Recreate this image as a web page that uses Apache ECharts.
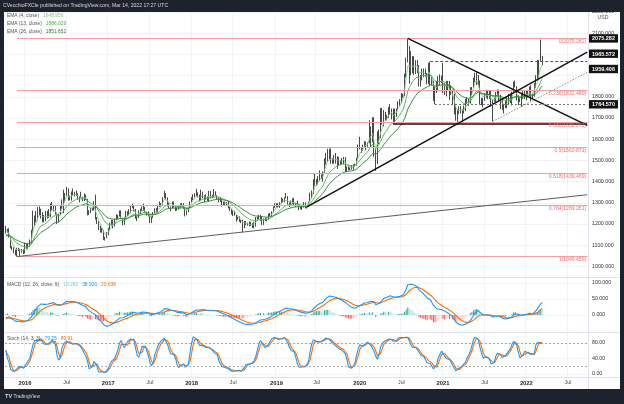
<!DOCTYPE html>
<html><head><meta charset="utf-8">
<script src="https://cdn.jsdelivr.net/npm/echarts@6/dist/echarts.min.js"></script>
<style>html,body{margin:0;padding:0;background:#1e222d;}#c{width:624px;height:404px;}</style>
</head><body><div id="c"></div><script>
// ---------- weekly XAU/USD data (week starting Monday) ----------
const firstWeek = '2015-10-12';
const totalWeeks = 364;
const firstOpen = [1156];

const close2015 = [1177,1162,1142,1088,1082,1076,1057,1085,1075,1065,1076,1061];
const high2015  = [1191,1178,1180,1142,1096,1090,1078,1088,1088,1083,1081,1082];
const low2015   = [1155,1159,1136,1085,1077,1062,1052,1046.459,1072,1047,1064,1058];

const close2016 = [1097,1089,1097,1117,1157,1239,1227,1222,1271,1259,1254,1217,1222,1243,1235,1232,1291,1290,1273,1252,1212,1243,1275,1298,1322,1340,1366,1327,1323,1350,1335,1336,1341,1321,1327,1328,1310,1338,1316,1257,1251,1267,1275,1304,1225,1208,1183,1178,1160,1133,1133,1152];
const high2016  = [1112,1105,1111,1127,1173,1263,1240,1261,1280,1283,1272,1256,1243,1261,1262,1270,1297,1304,1278,1286,1252,1248,1285,1316,1362,1346,1375,1368,1334,1354,1367,1352,1358,1345,1330,1352,1328,1344,1338,1318,1265,1275,1277,1308,1338,1233,1213,1191,1181,1172,1140,1163];
const low2016   = [1061,1080,1081,1092,1110,1158,1191,1208,1218,1240,1226,1208,1208,1214,1225,1228,1234,1263,1259,1245,1200,1206,1242,1271,1251,1304,1332,1310,1311,1310,1333,1330,1332,1315,1302,1323,1308,1308,1313,1241,1242,1253,1262,1265,1221,1200,1171,1160,1158,1125,1122,1135];

const close2017 = [1173,1197,1210,1190,1220,1234,1235,1257,1226,1203,1229,1244,1249,1254,1285,1284,1268,1228,1228,1254,1267,1279,1266,1254,1256,1242,1209,1228,1254,1269,1257,1289,1284,1291,1325,1346,1320,1297,1280,1275,1304,1280,1266,1269,1275,1293,1287,1274,1248,1256,1278,1303];
const high2017  = [1182,1207,1220,1219,1225,1245,1244,1264,1264,1227,1232,1261,1260,1270,1289,1296,1289,1271,1236,1264,1272,1283,1296,1280,1258,1260,1243,1236,1256,1274,1275,1291,1306,1299,1326,1357,1340,1326,1300,1282,1306,1306,1284,1279,1287,1296,1299,1298,1278,1264,1279,1306];
const low2017   = [1146,1173,1193,1180,1188,1219,1225,1234,1223,1194,1196,1228,1237,1241,1251,1275,1259,1225,1214,1230,1247,1260,1262,1252,1240,1236,1205,1205,1230,1250,1254,1256,1280,1282,1288,1322,1316,1283,1275,1260,1274,1278,1261,1263,1267,1273,1280,1271,1236,1241,1256,1277];

const close2018 = [1322,1338,1332,1348,1333,1315,1347,1330,1322,1323,1312,1347,1325,1332,1345,1336,1323,1315,1319,1291,1302,1294,1298,1279,1270,1253,1255,1241,1231,1223,1214,1213,1184,1206,1201,1198,1194,1199,1192,1203,1222,1228,1235,1233,1209,1223,1222,1222,1248,1238,1257,1280,1287];
const high2018  = [1327,1340,1345,1366,1349,1339,1362,1353,1336,1340,1329,1356,1355,1338,1365,1354,1337,1326,1326,1319,1304,1306,1303,1309,1280,1272,1263,1262,1244,1235,1236,1219,1220,1214,1214,1206,1212,1211,1204,1210,1233,1234,1243,1243,1237,1226,1230,1230,1250,1252,1260,1283,1298];
const low2018   = [1302,1313,1325,1331,1325,1307,1312,1322,1303,1315,1309,1306,1322,1322,1326,1331,1316,1302,1304,1282,1286,1290,1287,1273,1262,1245,1238,1239,1211,1220,1210,1204,1160,1180,1195,1192,1189,1191,1181,1180,1188,1221,1223,1215,1196,1196,1214,1213,1220,1236,1236,1254,1276];

const close2019 = [1290,1282,1298,1318,1314,1322,1328,1294,1298,1303,1312,1292,1291,1290,1275,1286,1280,1286,1277,1284,1305,1341,1341,1399,1409,1399,1415,1426,1419,1440,1497,1513,1527,1520,1506,1488,1517,1497,1505,1488,1490,1505,1514,1459,1468,1462,1463,1460,1476,1478,1511,1552];
const high2019  = [1298,1298,1303,1326,1320,1326,1346,1331,1301,1311,1320,1324,1300,1310,1296,1289,1287,1303,1301,1287,1306,1348,1358,1411,1439,1412,1426,1453,1434,1448,1510,1535,1555,1555,1557,1510,1525,1535,1519,1517,1500,1511,1516,1516,1472,1476,1467,1478,1481,1485,1513,1575];
const low2019   = [1279,1276,1276,1297,1302,1302,1321,1292,1281,1290,1295,1288,1280,1286,1266,1270,1267,1278,1274,1273,1281,1307,1322,1341,1381,1381,1386,1402,1412,1400,1438,1480,1492,1505,1484,1484,1484,1485,1460,1474,1478,1483,1482,1446,1445,1453,1454,1456,1456,1472,1476,1510];

const close2020 = [1562,1557,1571,1589,1570,1584,1643,1585,1674,1530,1498,1617,1620,1683,1683,1729,1700,1702,1743,1735,1730,1685,1730,1743,1771,1775,1799,1810,1902,1975,2035,1944,1940,1964,1934,1940,1950,1862,1900,1930,1899,1902,1879,1951,1889,1872,1788,1838,1839,1881,1878,1895];
const high2020  = [1611,1564,1574,1591,1583,1585,1689,1660,1704,1703,1560,1637,1645,1747,1747,1738,1722,1715,1752,1765,1745,1745,1744,1745,1779,1789,1818,1814,1909,1984,2075.282,2039,2015,1992,1992,1973,1973,1912,1903,1933,1933,1933,1912,1960,1965.572,1900,1876,1848,1875,1897,1906,1900];
const low2020   = [1552,1536,1546,1562,1548,1564,1581,1563,1585,1517,1451,1482,1576,1605,1669,1660,1690,1688,1700,1715,1693,1670,1678,1705,1741,1757,1770,1795,1802,1891,1962,1863,1902,1911,1903,1907,1912,1849,1848,1877,1892,1895,1859,1860,1850,1854,1781,1764.57,1819,1830,1855,1865];

const close2021 = [1850,1829,1856,1848,1814,1823,1784,1734,1700,1719,1745,1733,1728,1744,1777,1777,1769,1831,1844,1881,1905,1892,1877,1764,1781,1784,1808,1812,1802,1814,1763,1780,1781,1818,1828,1788,1754,1750,1761,1757,1768,1793,1783,1818,1865,1846,1792,1783,1783,1798,1811,1829];
const high2021  = [1959,1864,1875,1875,1875,1855,1834,1815,1760,1740,1755,1756,1740,1758,1790,1798,1790,1845,1846,1890,1913,1916,1903,1865,1795,1795,1818,1834,1832,1832,1832,1784,1795,1823,1834,1834,1809,1787,1766,1782,1800,1814,1815,1824,1870,1877,1850,1808,1793,1815,1826,1832];
const low2021   = [1817,1809,1802,1831,1785,1808,1760,1717,1687,1677,1718,1721,1677,1722,1732,1766,1757,1768,1809,1841,1868,1856,1855,1761,1761,1750,1781,1796,1789,1789,1753,1684,1777,1776,1810,1782,1742,1737,1721,1746,1746,1762,1771,1759,1815,1844,1782,1761,1775,1753,1790,1789];

const close2022 = [1797,1817,1835,1791,1808,1860,1898,1889,1970,1988,1955];
const high2022  = [1831,1830,1848,1854,1815,1865,1902,1974,1974,2070,1992];
const low2022   = [1783,1797,1805,1780,1788,1800,1842,1878,1890,1966,1950];

// indicator seeds (state before first visible bar)
const emaPeriods = [4, 13, 26];
const emaSeeds = [1165, 1145, 1142];
const emaColors = ['#7fc97f', '#4caf50', '#2e7d32'];
const emaLegendNames = ['EMA (4, close)', 'EMA (13, close)', 'EMA (26, close)'];
const emaLegendValues = ['1948.950', '1886.029', '1851.652'];
const macdSeeds = [1128, 1142, -12];
const macdLegendValues = ['18.282', '38.920', '20.638'];
const stochLegendValues = ['79.25', '80.91'];

// fibonacci retracement
const fibRatios = [0, 0.236, 0.382, 0.5, 0.618, 0.764, 1];
const fibLow = 1046.459, fibHigh = 2075.282, fibStart = '2015-11-30';

// drawn lines: [startDate, startPrice, endPrice]  (all run to right edge)
const longSupport = ['2015-11-30', 1046.459, 1338];
const risingTrend = ['2019-05-20', 1281, 2011];
const fallingTrend = ['2020-08-03', 2075.282, 1665];
const flatSupport = ['2020-06-01', 1672, 1672];
const dashedTop = ['2020-11-09', 1965.572, 1965.572];
const dashedBottom = ['2020-11-30', 1764.57, 1764.57];
const dottedRise = ['2021-08-09', 1684, 1915];

const priceTags = [2075.282, 1965.572, 1959.406, 1764.570];
const priceTagShift = [0, -8, 6, 0];
const hiddenPriceLabels = [1900, 2000];

// ---------- build ----------
const closes = [].concat(close2015, close2016, close2017, close2018, close2019, close2020, close2021, close2022);
const highsRaw = [].concat(high2015, high2016, high2017, high2018, high2019, high2020, high2021, high2022);
const lowsRaw = [].concat(low2015, low2016, low2017, low2018, low2019, low2020, low2021, low2022);

const cats = [];
{
  let t = Date.parse(firstWeek + 'T00:00:00Z');
  for (let i = 0; i < totalWeeks; i++) { cats.push(new Date(t).toISOString().slice(0, 10)); t += 7 * 864e5; }
}
const lastCat = cats[cats.length - 1];

const ohlc = [], H = [], L = [];
for (let i = 0; i < closes.length; i++) {
  const o = i === 0 ? firstOpen[0] : closes[i - 1];
  const c = closes[i];
  const h = Math.max(highsRaw[i], o, c);
  const l = Math.min(lowsRaw[i], o, c);
  H.push(h); L.push(l);
  ohlc.push([o, c, l, h]);
}

function ema(src, p, seed) { const a = 2 / (p + 1); let e = seed; return src.map(v => (e = e + a * (v - e))); }
function sma(src, p) { return src.map((v, i) => { const s = Math.max(0, i - p + 1); let sum = 0; for (let j = s; j <= i; j++) sum += src[j]; return sum / (i - s + 1); }); }

const emas = emaPeriods.map((p, k) => ema(closes, p, emaSeeds[k]).map(v => +v.toFixed(2)));
const e12 = ema(closes, 12, macdSeeds[0]), e26 = ema(closes, 26, macdSeeds[1]);
const macd = e12.map((v, i) => v - e26[i]);
const sig = ema(macd, 9, macdSeeds[2]);
const hist = macd.map((v, i) => v - sig[i]);
const histData = hist.map((v, i) => {
  const prev = i ? hist[i - 1] : v;
  const col = v >= 0 ? (v >= prev ? '#26a69a' : '#b2dfdb') : (v < prev ? '#ff5252' : '#ffcdd2');
  return { value: +v.toFixed(2), itemStyle: { color: col } };
});
const rawK = closes.map((c, i) => {
  const s = Math.max(0, i - 13); let hh = -Infinity, ll = Infinity;
  for (let j = s; j <= i; j++) { hh = Math.max(hh, H[j]); ll = Math.min(ll, L[j]); }
  return 100 * (c - ll) / (hh - ll);
});
const K = sma(rawK, 3), D = sma(K, 3);

const FONT = 'Liberation Sans, Arial, sans-serif';
const labelInt = (idx, val) => { const m = val.slice(5, 7), d = +val.slice(8, 10); return (m === '01' || m === '07') && d <= 7; };

const blanks = cats.map(() => null);
// one helper series per drawn line, style given at series level
const lineHolder = (def, style, label, z) => ({
  type: 'line', xAxisIndex: 0, yAxisIndex: 0, data: blanks, showSymbol: false, silent: true, z,
  lineStyle: { width: 0 }, emphasis: { disabled: true },
  markLine: { silent: true, symbol: ['none', 'none'], animation: false,
    lineStyle: Object.assign({}, style), label: label || { show: false },
    emphasis: { disabled: true },
    data: [[{ coord: [def[0], def[1]] }, { coord: [lastCat, def[2]] }]] }
});
const fibSeries = fibRatios.map(r => {
  const p = Math.round((fibHigh - r * (fibHigh - fibLow)) * 1000) / 1000;
  return lineHolder([fibStart, p, p], { color: '#f5a0a0', width: 1, type: 'solid' },
    { show: true, position: 'insideEndBottom', distance: 1, formatter: r + '(' + (p + 1e-7).toFixed(3) + ')', color: '#f26d6d', fontSize: 5.1, fontFamily: FONT }, 1);
});
const drawSeries = [
  lineHolder(longSupport, { color: '#5d5d5d', width: 1, type: 'solid' }, null, 5),
  lineHolder(risingTrend, { color: '#111111', width: 1.5, type: 'solid' }, null, 5),
  lineHolder(fallingTrend, { color: '#111111', width: 1.5, type: 'solid' }, null, 5),
  lineHolder(flatSupport, { color: '#111111', width: 1.5, type: 'solid' }, null, 5),
  lineHolder(dashedTop, { color: '#555555', width: 1, type: [3, 2] }, null, 5),
  lineHolder(dashedBottom, { color: '#777777', width: 1, type: [2, 2] }, null, 5),
  lineHolder(dottedRise, { color: '#888888', width: 1, type: [1.5, 1.5] }, null, 5)
];

const grids = [
  { left: 5, right: 36, top: 12, height: 265 },
  { left: 5, right: 36, top: 278, height: 53 },
  { left: 5, right: 36, top: 333, height: 44 }
];
const axisTxt = { color: '#333', fontSize: 5.3, fontFamily: FONT, margin: 4 };
const CLEAR = 'rgba(0,0,0,0)', GRID = '#f0f2f6';

const option = {
  backgroundColor: '#ffffff',
  animation: false,
  grid: grids,
  xAxis: [0, 1, 2].map(k => ({
    type: 'category', gridIndex: k, data: cats, boundaryGap: true,
    axisLine: { show: false }, axisTick: { show: false },
    axisLabel: {
      show: k === 2, interval: labelInt, margin: 3,
      formatter: v => v.slice(5, 7) === '01' ? '{y|' + v.slice(0, 4) + '}' : '{m|Jul}',
      rich: { y: { fontWeight: 'bold', fontSize: 5.8, color: '#222', fontFamily: FONT }, m: { fontSize: 5.3, color: '#444', fontFamily: FONT } }
    },
    splitLine: { show: true, interval: labelInt, lineStyle: { color: GRID, width: 1 } }
  })),
  yAxis: [
    { type: 'value', gridIndex: 0, position: 'right', min: 950, max: 2200, interval: 50,
      axisLine: { show: false }, axisTick: { show: false },
      axisLabel: Object.assign({ formatter: v => (Math.round(v) % 100 === 0 && !hiddenPriceLabels.includes(Math.round(v)) ? v.toFixed(3) : '') }, axisTxt),
      splitLine: { show: true, lineStyle: { color: [CLEAR, GRID] } } },
    { type: 'value', gridIndex: 1, position: 'right', min: -50, max: 115, interval: 50,
      axisLine: { show: false }, axisTick: { show: false },
      axisLabel: Object.assign({ formatter: v => ([0, 50, 100].includes(v) ? v.toFixed(3) : ''), showMaxLabel: false }, axisTxt),
      splitLine: { show: true, lineStyle: { color: [CLEAR, GRID, GRID, GRID, CLEAR] } } },
    { type: 'value', gridIndex: 2, position: 'right', min: -8, max: 106, interval: 8,
      axisLine: { show: false }, axisTick: { show: false },
      axisLabel: Object.assign({ formatter: v => ([0, 40, 80].includes(v) ? v.toFixed(2) : ''), showMaxLabel: false }, axisTxt),
      splitLine: { show: true, lineStyle: { color: [CLEAR, GRID, CLEAR, CLEAR, CLEAR] } } }
  ],
  series: [
    { type: 'candlestick', xAxisIndex: 0, yAxisIndex: 0, data: ohlc, barWidth: '70%', z: 2,
      itemStyle: { color: '#ffffff', color0: '#1a1a1a', borderColor: '#1a1a1a', borderColor0: '#1a1a1a', borderWidth: 0.8 },
      emphasis: { disabled: true } }
  ].concat(fibSeries, drawSeries, emas.map((e, k) => ({
    type: 'line', xAxisIndex: 0, yAxisIndex: 0, data: e, showSymbol: false, z: 3,
    lineStyle: { color: emaColors[k], width: 0.9 }, emphasis: { disabled: true }
  })), [
    { type: 'bar', xAxisIndex: 1, yAxisIndex: 1, data: histData, barWidth: 1, emphasis: { disabled: true } },
    { type: 'line', xAxisIndex: 1, yAxisIndex: 1, data: macd.map(v => +v.toFixed(2)), showSymbol: false, z: 4,
      lineStyle: { color: '#2196f3', width: 1.1 }, emphasis: { disabled: true } },
    { type: 'line', xAxisIndex: 1, yAxisIndex: 1, data: sig.map(v => +v.toFixed(2)), showSymbol: false, z: 3,
      lineStyle: { color: '#ff6d00', width: 1.1 }, emphasis: { disabled: true } },
    { type: 'line', xAxisIndex: 2, yAxisIndex: 2, data: K.map(v => +v.toFixed(2)), showSymbol: false, z: 4,
      lineStyle: { color: '#2196f3', width: 1.1 }, emphasis: { disabled: true },
      markLine: { silent: true, symbol: ['none', 'none'], label: { show: false },
        lineStyle: { color: '#9598a1', type: [2, 2], width: 0.8 }, data: [{ yAxis: 80 }, { yAxis: 20 }] } },
    { type: 'line', xAxisIndex: 2, yAxisIndex: 2, data: D.map(v => +v.toFixed(2)), showSymbol: false, z: 3,
      lineStyle: { color: '#ff6d00', width: 1.1 }, emphasis: { disabled: true } }
  ])
};

const chart = echarts.init(document.getElementById('c'), null, { renderer: 'canvas' });
chart.setOption(option);

// ---------- overlay: frame, legends, price tags ----------
const FRAME = '#1e222d';
const g = [];
const txt = (x, y, text, fill, size, extra) => g.push(Object.assign({ type: 'text', x, y, z: 120, silent: true,
  style: Object.assign({ text, fill, fontSize: size, fontFamily: FONT, verticalAlign: 'middle', textAlign: 'left' }, extra || {}) }));
const rtxt = (x, y, parts, size) => {
  const rich = {}; let s = '';
  parts.forEach((p, i) => { rich['p' + i] = { fill: p[1], fontSize: size, fontFamily: FONT }; s += (i ? '{sp|}' : '') + '{p' + i + '|' + p[0] + '}'; });
  rich.sp = { width: 4, fontSize: size };
  g.push({ type: 'text', x, y, z: 120, silent: true, style: { text: s, rich, fontSize: size, fontFamily: FONT, verticalAlign: 'middle', textAlign: 'left' } });
};
const hline = (x1, x2, y, col) => g.push({ type: 'line', z: 90, silent: true, shape: { x1, y1: y, x2, y2: y }, style: { stroke: col, lineWidth: 1 } });

hline(4, 620, 277.5, '#e0e3eb');
hline(4, 620, 332.5, '#e0e3eb');
hline(4, 620, 377.5, '#e0e3eb');
g.push({ type: 'line', z: 90, silent: true, shape: { x1: 588.5, y1: 12, x2: 588.5, y2: 389 }, style: { stroke: '#e0e3eb', lineWidth: 1 } });

priceTags.forEach((p, k) => {
  const y = chart.convertToPixel({ yAxisIndex: 0 }, p) + priceTagShift[k];
  g.push({ type: 'rect', z: 110, silent: true, shape: { x: 589, y: y - 4.2, width: 29, height: 8.4 }, style: { fill: '#131313' } });
  txt(603.5, y + 0.3, p.toFixed(3), '#ffffff', 5.5, { textAlign: 'center', fontWeight: 'bold' });
});
txt(603, 17.5, 'USD', '#555', 5.2, { textAlign: 'center' });

[[0, 0, 624, 12], [0, 389, 624, 15], [0, 0, 4, 404], [620, 0, 4, 404]].forEach(r =>
  g.push({ type: 'rect', z: 115, silent: true, shape: { x: r[0], y: r[1], width: r[2], height: r[3] }, style: { fill: FRAME } }));
txt(3, 6, 'CVecchioFXCle published on TradingView.com, Mar 14, 2022 17:27 UTC', '#d8dae0', 5.1);
txt(5, 396.5, 'TV', '#d8dae0', 5.6, { fontWeight: 'bold' });
txt(13.5, 396.5, 'TradingView', '#d8dae0', 4.8);

emaLegendNames.forEach((n, k) => rtxt(7, 16 + k * 7.8, [[n, '#555'], [emaLegendValues[k], emaColors[k]]], 4.9));
rtxt(7, 285, [['MACD (12, 26, close, 9)', '#555'], [macdLegendValues[0], '#80cbc4'], [macdLegendValues[1], '#2196f3'], [macdLegendValues[2], '#ff6d00']], 4.9);
rtxt(7, 338.5, [['Stoch (14, 3, 3)', '#555'], [stochLegendValues[0], '#2196f3'], [stochLegendValues[1], '#ff6d00']], 4.9);

chart.setOption({ graphic: g });
</script></body></html>
